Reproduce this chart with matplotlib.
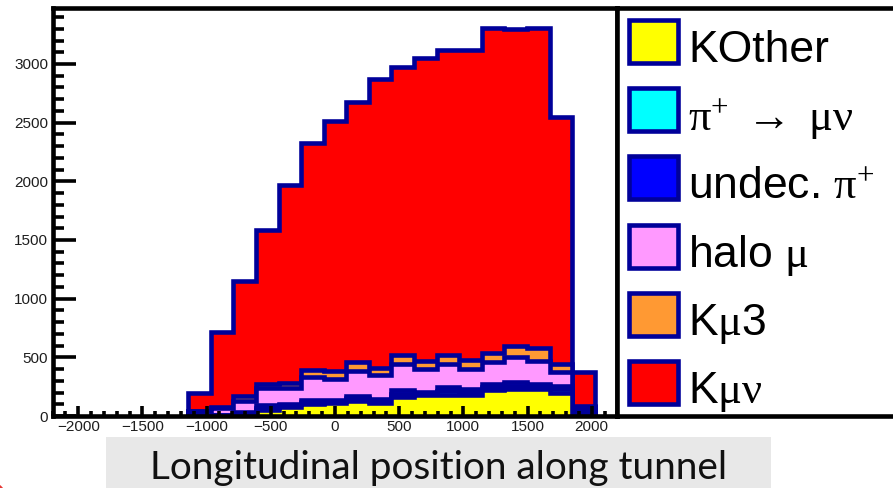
import numpy as np
import matplotlib
matplotlib.use("Agg")
import matplotlib.pyplot as plt
from matplotlib.patches import Rectangle, Circle
from matplotlib.ticker import MultipleLocator
from matplotlib.transforms import IdentityTransform

plt.rcParams['mathtext.fontset'] = 'custom'
plt.rcParams['mathtext.rm'] = 'Liberation Serif'
plt.rcParams['mathtext.it'] = 'Liberation Serif:italic'
plt.rcParams['mathtext.bf'] = 'Liberation Serif:bold'
plt.rcParams['font.family'] = ['Liberation Sans', 'DejaVu Sans']
plt.rcParams['axes.unicode_minus'] = True

# ---------------- data ----------------
bin_edges = [-1144, -968, -792, -616, -440, -264, -88, 88, 264, 440, 616,
             792, 968, 1144, 1320, 1496, 1672, 1848, 2024]
k_other  = [0, 0, 5, 54, 76, 102, 112, 130, 110, 159, 180, 183, 183, 218, 230, 230, 197, 20]
pi_munu  = [5, 5, 14, 18, 14, 15, 14, 20, 18, 29, 12, 31, 23, 28, 28, 21, 31, 15]
undec_pi = [5, 6, 15, 19, 15, 16, 14, 20, 19, 30, 13, 31, 24, 29, 29, 22, 31, 15]
halo_mu  = [35, 57, 91, 147, 133, 198, 178, 210, 204, 225, 195, 198, 170, 182, 213, 199, 119, 25]
k_mu3    = [0, 8, 45, 36, 40, 61, 67, 79, 57, 74, 72, 79, 80, 80, 94, 107, 65, 10]
k_munu   = [151, 636, 981, 1311, 1687, 1935, 2129, 2217, 2464, 2458, 2583, 2597, 2639, 2770, 2700, 2728, 2105, 294]

labels = ['KOther', r'$\mathrm{\pi^{+}\ \rightarrow\ \mu\nu}$', r'undec. $\mathrm{\pi^{+}}$',
          r'halo $\mathrm{\mu}$', r'K$\mathrm{\mu}$3', r'K$\mathrm{\mu\nu}$']
colors = ['#ffff00', '#00ffff', '#0000ff', '#ff99ff', '#ff9933', '#ff0000']
NAVY = '#000099'

x_range = (-2200, 2200)
y_max = 3477
xlabel = 'Longitudinal position along tunnel'

# ---------------- layout ----------------
W, H = 893, 488
fig = plt.figure(figsize=(W / 100, H / 100), dpi=100)

def fx(px):
    return px / W

def fy(py):
    return 1 - py / H

x0, x1 = 52.6, 617.4
y_top, y_bot = 8, 416
LW = 3.3

ax = fig.add_axes([fx(x0), fy(y_bot), fx(x1) - fx(x0), (y_bot - y_top) / H])
ax.set_xlim(*x_range)
ax.set_ylim(0, y_max)

layers = [k_other, pi_munu, undec_pi, halo_mu, k_mu3, k_munu]
cum = np.cumsum(np.array(layers, dtype=float), axis=0)
for i in range(len(layers) - 1, -1, -1):
    ax.stairs(cum[i], bin_edges, fill=True, facecolor=colors[i],
              edgecolor=NAVY, linewidth=LW, joinstyle='miter', zorder=1)

ax.set_axisbelow(False)
ax.xaxis.set_major_locator(MultipleLocator(500))
ax.xaxis.set_minor_locator(MultipleLocator(100))
ax.yaxis.set_major_locator(MultipleLocator(500))
ax.yaxis.set_minor_locator(MultipleLocator(100))
ax.tick_params(which='both', direction='in', top=False, right=False,
               width=2.6, color='black', labelsize=11, labelcolor='#1e1e1e')
ax.tick_params(axis='y', which='major', length=16.8, pad=3.3)
ax.tick_params(axis='y', which='minor', length=8.2)
ax.tick_params(axis='x', which='major', length=7.4, pad=3)
ax.tick_params(axis='x', which='minor', length=3.8)
for s in ax.spines.values():
    s.set_linewidth(LW)
    s.set_color('black')

# ---------------- legend ----------------
lax = fig.add_axes([fx(x1), fy(y_bot), fx(W + 20) - fx(x1), (y_bot - y_top) / H])
lax.set_xlim(x1, W + 20)
lax.set_ylim(y_bot, y_top)
lax.set_xticks([])
lax.set_yticks([])
for s in lax.spines.values():
    s.set_linewidth(LW)
    s.set_color('black')
for i, (lab, col) in enumerate(zip(labels, colors)):
    cy = 41.5 + i * 68.2
    lax.add_patch(Rectangle((629, cy - 21.5), 49, 43, facecolor=col,
                            edgecolor=NAVY, lw=LW, joinstyle='miter'))
    lax.text(688, cy + 21, lab, fontsize=32, va='baseline', ha='left', color='black')

# ---------------- x label box ----------------
fig.add_artist(Rectangle((fx(106), 0), fx(771) - fx(106), (H - 437) / H,
                         transform=fig.transFigure, facecolor='#e8e8e8',
                         edgecolor='none', zorder=0))
t = fig.text(fx(439), fy(478.5), xlabel, ha='center', va='baseline',
             fontsize=27, family=['Lato', 'DejaVu Sans'], color='#111111')
fig.canvas.draw()
w = t.get_window_extent().width
t.set_fontsize(27 * 578 / w)

fig.add_artist(Circle((-9, -9), 15, transform=IdentityTransform(),
                      facecolor='#e53935', edgecolor='none'))

fig.savefig('out.png', dpi=100)
